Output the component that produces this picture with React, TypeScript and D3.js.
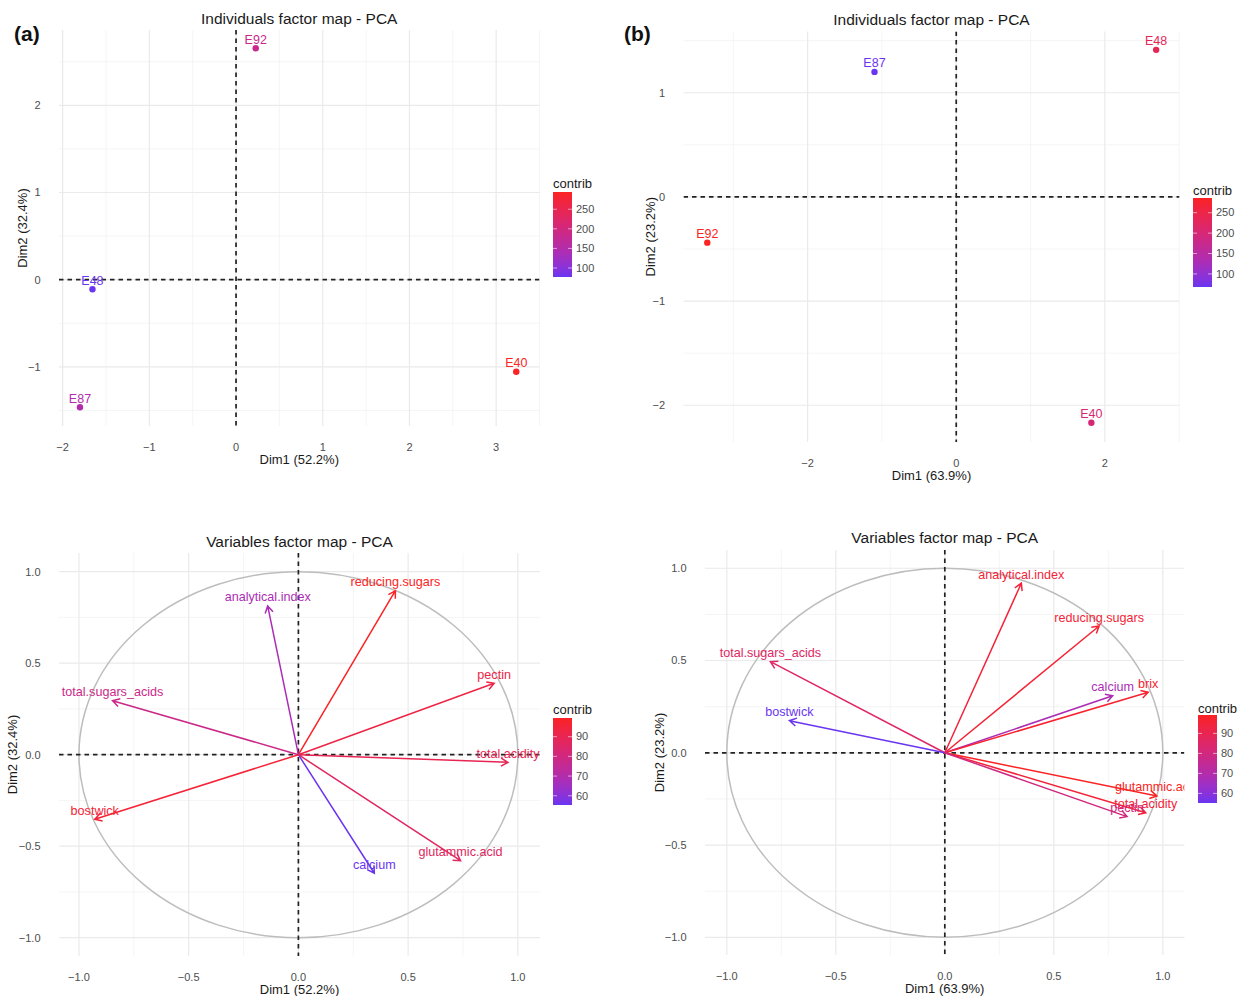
import * as React from 'react';
import * as d3 from 'd3';

const FONT = '"Liberation Sans", Arial, Helvetica, sans-serif';
const LOW = '#6a35f0';
const HIGH = '#fb2323';

// (a) individuals
const indANames = ['E92', 'E48', 'E87', 'E40'];
const indADim1 = [0.227, -1.656, -1.8, 3.232];
const indADim2 = [2.654, -0.11, -1.463, -1.055];
const indAContrib = [185, 77, 150, 294];

// (b) individuals
const indBNames = ['E87', 'E48', 'E92', 'E40'];
const indBDim1 = [-1.1, 2.69, -3.35, 1.818];
const indBDim2 = [1.2, 1.412, -0.439, -2.168];
const indBContrib = [68, 234, 286, 201];

// (a) variables
const varANames = ['reducing.sugars', 'analytical.index', 'pectin', 'total.sugars_acids', 'total.acidity', 'bostwick', 'calcium', 'glutammic.acid'];
const varADim1 = [0.442, -0.14, 0.892, -0.847, 0.955, -0.928, 0.346, 0.739];
const varADim2 = [0.896, 0.813, 0.39, 0.295, -0.042, -0.353, -0.648, -0.579];
const varAContrib = [99.5, 68, 93, 78, 90, 96, 55.3, 87];

// (b) variables
const varBNames = ['analytical.index', 'reducing.sugars', 'total.sugars_acids', 'calcium', 'brix', 'bostwick', 'glutammic.acid', 'total.acidity', 'pectin'];
const varBDim1 = [0.351, 0.708, -0.8, 0.77, 0.933, -0.713, 0.973, 0.922, 0.836];
const varBDim2 = [0.919, 0.687, 0.494, 0.309, 0.328, 0.174, -0.234, -0.325, -0.346];
const varBContrib = [95, 96, 86, 68, 97, 55.2, 99.2, 95, 80];

const ticksInd = [100, 150, 200, 250];
const ticksVar = [60, 70, 80, 90];

const fmt = (v, dec) => (v < 0 ? '\u2212' : '') + Math.abs(v).toFixed(dec);

const Panel = ({ p }) => {
  const x = d3.scaleLinear().domain(p.xDomain).range([p.left, p.right]);
  const y = d3.scaleLinear().domain(p.yDomain).range([p.bottom, p.top]);
  const ext = d3.extent(p.contrib);
  const color = d3.scaleLinear().domain(ext).range([LOW, HIGH]).interpolate(d3.interpolateLab);
  const lg = d3.scaleLinear().domain(ext).range([p.legBottom, p.legTop]);
  const cx = (p.left + p.right) / 2;
  const cy = (p.top + p.bottom) / 2;
  const clip = 'clip-' + p.id;
  const grad = 'grad-' + p.id;
  const stops = d3.range(0, 1.0001, 0.1);

  const arrow = (i) => {
    const x0 = x(0), y0 = y(0);
    const x1 = x(p.dim1[i]), y1 = y(p.dim2[i]);
    const a = Math.atan2(y1 - y0, x1 - x0);
    const len = 8;
    const h1 = [x1 - len * Math.cos(a - Math.PI / 6), y1 - len * Math.sin(a - Math.PI / 6)];
    const h2 = [x1 - len * Math.cos(a + Math.PI / 6), y1 - len * Math.sin(a + Math.PI / 6)];
    return `M${x0},${y0}L${x1},${y1}M${h1[0]},${h1[1]}L${x1},${y1}L${h2[0]},${h2[1]}`;
  };

  return (
    <g fontFamily={FONT}>
      <defs>
        <clipPath id={clip}>
          <rect x={p.left} y={p.top} width={p.right - p.left} height={p.bottom - p.top} />
        </clipPath>
        <linearGradient id={grad} x1="0" y1="1" x2="0" y2="0">
          {stops.map((t) => (
            <stop key={t} offset={t} stopColor={color(ext[0] + t * (ext[1] - ext[0]))} />
          ))}
        </linearGradient>
      </defs>
      {/* grid */}
      {p.xMinor.map((v) => (
        <line key={'xm' + v} x1={x(v)} x2={x(v)} y1={p.top} y2={p.bottom} stroke="#f2f2f2" strokeWidth={0.8} />
      ))}
      {p.yMinor.map((v) => (
        <line key={'ym' + v} y1={y(v)} y2={y(v)} x1={p.left} x2={p.right} stroke="#f2f2f2" strokeWidth={0.8} />
      ))}
      {p.xMajor.map((v) => (
        <line key={'xM' + v} x1={x(v)} x2={x(v)} y1={p.top} y2={p.bottom} stroke="#eaeaea" strokeWidth={1.2} />
      ))}
      {p.yMajor.map((v) => (
        <line key={'yM' + v} y1={y(v)} y2={y(v)} x1={p.left} x2={p.right} stroke="#eaeaea" strokeWidth={1.2} />
      ))}
      {/* tick labels */}
      {p.xMajor.map((v) => (
        <text key={'xt' + v} x={x(v)} y={p.bottom + 25} textAnchor="middle" fontSize={11} fill="#4d4d4d">
          {fmt(v, p.dec)}
        </text>
      ))}
      {p.yMajor.map((v) => (
        <text key={'yt' + v} x={p.left - 18.5} y={y(v) + 3.9} textAnchor="end" fontSize={11} fill="#4d4d4d">
          {fmt(v, p.dec)}
        </text>
      ))}
      <g clipPath={`url(#${clip})`}>
        {p.kind === 'var' && (
          <ellipse cx={x(0)} cy={y(0)} rx={x(1) - x(0)} ry={y(0) - y(1)} fill="none" stroke="#bdbdbd" strokeWidth={1.5} />
        )}
        <line x1={p.left} x2={p.right} y1={y(0)} y2={y(0)} stroke="#222" strokeWidth={1.7} strokeDasharray="4.5,4" />
        <line x1={x(0)} x2={x(0)} y1={p.top} y2={p.bottom} stroke="#222" strokeWidth={1.7} strokeDasharray="4.5,4" />
        {p.kind === 'var'
          ? p.names.map((n, i) => (
              <path key={'a' + n} d={arrow(i)} fill="none" stroke={color(p.contrib[i])} strokeWidth={1.5} />
            ))
          : p.names.map((n, i) => (
              <circle key={'c' + n} cx={x(p.dim1[i])} cy={y(p.dim2[i])} r={3.2} fill={color(p.contrib[i])} />
            ))}
        {p.names.map((n, i) => (
          <text key={'l' + n} x={x(p.dim1[i])} y={y(p.dim2[i]) - 4.5} textAnchor="middle" fontSize={p.kind === 'var' ? 12.6 : 12.5} fill={color(p.contrib[i])}>
            {n}
          </text>
        ))}
      </g>
      {/* titles */}
      <text x={cx} y={p.titleY} textAnchor="middle" fontSize={15.5} fill="#1a1a1a">{p.title}</text>
      <text x={cx} y={p.bottom + 38} textAnchor="middle" fontSize={13} fill="#1a1a1a">{p.xTitle}</text>
      <text transform={`translate(${p.yTitleX},${cy}) rotate(-90)`} textAnchor="middle" fontSize={13} fill="#1a1a1a">{p.yTitle}</text>
      {/* legend */}
      <text x={p.legX} y={p.legTitleY} fontSize={13} fill="#1a1a1a">contrib</text>
      <rect x={p.legX} y={p.legTop} width={19} height={p.legBottom - p.legTop} fill={`url(#${grad})`} />
      {p.legTicks.map((t) => (
        <g key={'lt' + t}>
          <line x1={p.legX} x2={p.legX + 4} y1={lg(t)} y2={lg(t)} stroke="#ffffff" strokeOpacity={0.7} strokeWidth={0.8} />
          <line x1={p.legX + 15} x2={p.legX + 19} y1={lg(t)} y2={lg(t)} stroke="#ffffff" strokeOpacity={0.7} strokeWidth={0.8} />
          <text x={p.legX + 23} y={lg(t) + 3.8} fontSize={11} fill="#4d4d4d">{t}</text>
        </g>
      ))}
    </g>
  );
};

const panels = [
  {
    id: 'a', kind: 'ind', names: indANames, dim1: indADim1, dim2: indADim2, contrib: indAContrib,
    left: 59, right: 539.5, top: 30, bottom: 426,
    xDomain: [-2.042, 3.5], yDomain: [-1.678, 2.864],
    xMajor: [-2, -1, 0, 1, 2, 3], xMinor: [-1.5, -0.5, 0.5, 1.5, 2.5, 3.5],
    yMajor: [-1, 0, 1, 2], yMinor: [-1.5, -0.5, 0.5, 1.5, 2.5],
    dec: 0, title: 'Individuals factor map - PCA', xTitle: 'Dim1 (52.2%)', yTitle: 'Dim2 (32.4%)',
    titleY: 24, yTitleX: 26.5,
    legX: 553, legTop: 192, legBottom: 277, legTitleY: 188, legTicks: ticksInd,
  },
  {
    id: 'b', kind: 'ind', names: indBNames, dim1: indBDim1, dim2: indBDim2, contrib: indBContrib,
    left: 683.5, right: 1179.5, top: 31.5, bottom: 442,
    xDomain: [-3.67, 3.004], yDomain: [-2.353, 1.588],
    xMajor: [-2, 0, 2], xMinor: [-3, -1, 1, 3],
    yMajor: [-2, -1, 0, 1], yMinor: [-1.5, -0.5, 0.5, 1.5],
    dec: 0, title: 'Individuals factor map - PCA', xTitle: 'Dim1 (63.9%)', yTitle: 'Dim2 (23.2%)',
    titleY: 25, yTitleX: 654.5,
    legX: 1193, legTop: 198, legBottom: 287, legTitleY: 195, legTicks: ticksInd,
  },
  {
    id: 'c', kind: 'var', names: varANames, dim1: varADim1, dim2: varADim2, contrib: varAContrib,
    left: 59, right: 540, top: 553, bottom: 956,
    xDomain: [-1.091, 1.101], yDomain: [-1.1, 1.102],
    xMajor: [-1, -0.5, 0, 0.5, 1], xMinor: [-0.75, -0.25, 0.25, 0.75],
    yMajor: [-1, -0.5, 0, 0.5, 1], yMinor: [-0.75, -0.25, 0.25, 0.75],
    dec: 1, title: 'Variables factor map - PCA', xTitle: 'Dim1 (52.2%)', yTitle: 'Dim2 (32.4%)',
    titleY: 546.5, yTitleX: 16.5,
    legX: 553, legTop: 718, legBottom: 805, legTitleY: 714, legTicks: ticksVar,
  },
  {
    id: 'd', kind: 'var', names: varBNames, dim1: varBDim1, dim2: varBDim2, contrib: varBContrib,
    left: 705, right: 1184.4, top: 550, bottom: 955,
    xDomain: [-1.1, 1.099], yDomain: [-1.096, 1.099],
    xMajor: [-1, -0.5, 0, 0.5, 1], xMinor: [-0.75, -0.25, 0.25, 0.75],
    yMajor: [-1, -0.5, 0, 0.5, 1], yMinor: [-0.75, -0.25, 0.25, 0.75],
    dec: 1, title: 'Variables factor map - PCA', xTitle: 'Dim1 (63.9%)', yTitle: 'Dim2 (23.2%)',
    titleY: 543, yTitleX: 664,
    legX: 1198, legTop: 715, legBottom: 803, legTitleY: 712.5, legTicks: ticksVar,
  },
];

export default function App() {
  return (
    <svg
      width={1241}
      height={996}
      style={{ position: 'absolute', left: 0, top: 0, background: '#ffffff' }}
    >
      <rect width={1241} height={996} fill="#ffffff" />
      {panels.map((p) => (
        <Panel key={p.id} p={p} />
      ))}
      <text x={14} y={41} fontFamily={FONT} fontWeight="bold" fontSize={21} fill="#111">(a)</text>
      <text x={624} y={41} fontFamily={FONT} fontWeight="bold" fontSize={21} fill="#111">(b)</text>
    </svg>
  );
}
